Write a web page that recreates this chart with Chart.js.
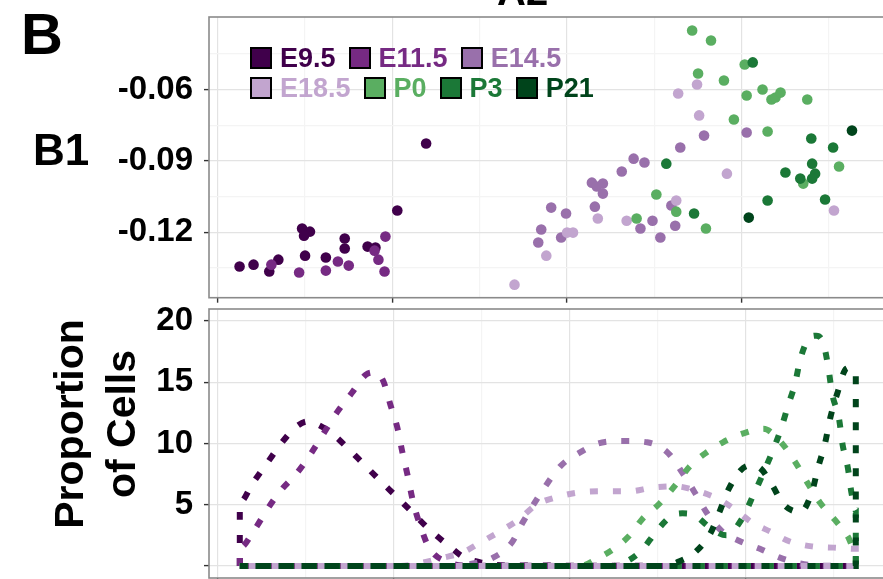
<!DOCTYPE html>
<html>
<head>
<meta charset="utf-8">
<title>B1 vs A2 by stage</title>
<script src="https://cdn.jsdelivr.net/npm/chart.js@4.4.1/dist/chart.umd.min.js"></script>
<style>
  html, body { margin: 0; padding: 0; background: #fff; }
  #fig { position: relative; width: 883px; height: 579px; overflow: hidden;
         font-family: 'Liberation Sans', Arial, sans-serif; font-weight: bold; }
  .box { position: absolute; left: 0; }
  #topBox { top: 0; width: 913px; height: 303px; }
  #botBox { top: 303px; width: 913px; height: 280px; }
  .lbl { position: absolute; white-space: nowrap; color: #000; line-height: 1; }
  #panel { left: 21px; top: 5px; font-size: 58px; }
  #b1 { left: 33px; top: 128px; font-size: 44px; }
  #a2 { left: 497px; top: -29px; font-size: 40px; }
  #ylab { left: -55px; top: 372px; width: 300px; font-size: 41px; line-height: 52px;
          text-align: center; transform: rotate(-90deg); }
  #legend { position: absolute; left: 250px; top: 43px; font-size: 27px; }
  .row { display: flex; align-items: center; height: 30px; }
  .item { display: flex; align-items: center; margin-right: 13px; line-height: 1; }
  .key { width: 22px; height: 22px; box-sizing: border-box; border: 2px solid #000; margin-right: 8px; }
</style>
</head>
<body>
<div id="fig">
  <div class="box" id="topBox"><canvas id="scatter" width="913" height="303"></canvas></div>
  <div class="box" id="botBox"><canvas id="density" width="913" height="280"></canvas></div>
  <div class="lbl" id="a2">A2</div>
  <div class="lbl" id="panel">B</div>
  <div class="lbl" id="b1">B1</div>
  <div class="lbl" id="ylab">Proportion<br>of Cells</div>
  <div id="legend"></div>
</div>
<script>
// stages and colours
var stages = ['E9.5', 'E11.5', 'E14.5', 'E18.5', 'P0', 'P3', 'P21'];
var stageColors = ['#40004b', '#762a83', '#9970ab', '#c2a5cf', '#5aae61', '#1b7837', '#00441b'];
var legendRows = [['E9.5', 'E11.5', 'E14.5'], ['E18.5', 'P0', 'P3', 'P21']];

// scatter: [A2, B1] per cell
var cellsE95 = [[0.125,-0.1345],[0.205,-0.1337],[0.295,-0.1366],[0.347,-0.1316],[0.483,-0.1185],[0.528,-0.1198],
  [0.494,-0.1215],[0.5,-0.1299],[0.619,-0.1307],[0.727,-0.1227],[0.727,-0.1269],[0.858,-0.1261],[0.903,-0.1265],
  [1.028,-0.1109],[1.193,-0.0827]];
var cellsE115 = [[0.307,-0.1337],[0.466,-0.137],[0.619,-0.1362],[0.688,-0.1324],[0.75,-0.1341],[0.898,-0.1278],
  [0.92,-0.1316],[0.96,-0.1219],[0.955,-0.1366]];
var cellsE145 = [[1.835,-0.1244],[1.852,-0.1189],[1.909,-0.1097],[1.966,-0.1223],[1.994,-0.1122],[2.142,-0.0992],
  [2.17,-0.1008],[2.205,-0.0996],[2.205,-0.1038],[2.159,-0.1093],[2.313,-0.0945],[2.381,-0.0891],[2.443,-0.0907],
  [2.648,-0.0844],[2.784,-0.0794],[2.42,-0.1185],[2.489,-0.1152],[2.534,-0.1223],[2.597,-0.1088],[2.619,-0.1173],
  [3.028,-0.0781]];
var cellsE185 = [[1.699,-0.1421],[1.881,-0.1299],[2.0,-0.1202],[2.034,-0.1202],[2.176,-0.1143],[2.341,-0.1152],
  [2.625,-0.1067],[2.636,-0.0617],[2.744,-0.0579],[2.756,-0.0709],[2.915,-0.0954],[3.528,-0.1109]];
var cellsP0 = [[2.716,-0.0352],[2.824,-0.0394],[2.75,-0.0533],[2.898,-0.0562],[3.017,-0.0495],[3.028,-0.0625],
  [3.119,-0.06],[3.17,-0.0642],[3.193,-0.0634],[3.222,-0.0613],[3.375,-0.0642],[2.955,-0.0726],[3.148,-0.0777],
  [2.511,-0.1042],[2.398,-0.1143],[2.625,-0.1114],[2.795,-0.1185],[3.352,-0.0996],[3.557,-0.0924]];
var cellsP3 = [[2.568,-0.0912],[2.727,-0.1122],[3.148,-0.1067],[3.398,-0.0806],[3.523,-0.0844],[3.25,-0.0949],
  [3.335,-0.0975],[3.403,-0.0912],[3.42,-0.0954],[3.403,-0.0975],[3.477,-0.1063],[3.063,-0.0486]];
var cellsP21 = [[3.04,-0.1139],[3.631,-0.0773]];

// density along A2: [A2, proportion of cells]
var densE95 = [[0.125,5.2],[0.2,6.8],[0.28,8.4],[0.36,10.0],[0.44,11.3],[0.51,11.8],[0.56,11.6],[0.65,10.8],
  [0.74,9.6],[0.83,8.3],[0.92,7.0],[1.02,5.6],[1.11,4.3],[1.2,3.0],[1.3,1.8],[1.4,0.7],[1.51,0.25],[1.63,0.05],[3.625,0]];
var densE115 = [[0.125,1.5],[0.21,3.0],[0.28,4.6],[0.36,6.2],[0.45,7.6],[0.53,9.2],[0.6,10.8],[0.68,12.6],
  [0.76,14.1],[0.84,15.6],[0.89,15.8],[0.94,15.1],[0.98,13.2],[1.02,11.3],[1.05,9.2],[1.08,7.3],[1.11,5.2],
  [1.15,3.3],[1.2,1.5],[1.32,0.25],[1.43,0.02],[3.625,0]];
var densE145 = [[0.125,0],[1.35,0],[1.43,0.15],[1.56,0.65],[1.67,1.9],[1.73,3.5],[1.875,6.8],[1.95,8.2],[2.05,9.2],
  [2.16,10.0],[2.3,10.2],[2.44,10.1],[2.56,9.2],[2.64,7.6],[2.71,6.0],[2.78,4.3],[2.86,2.9],[2.97,2.0],[3.08,1.4],
  [3.19,0.7],[3.31,0.2],[3.43,0.03],[3.625,0]];
var densE185 = [[0.125,0],[1.03,0],[1.14,0.2],[1.27,0.65],[1.39,1.1],[1.49,1.9],[1.6,2.8],[1.71,3.8],[1.81,5.0],
  [1.92,5.6],[2.05,6.0],[2.19,6.1],[2.34,6.1],[2.47,6.4],[2.6,6.5],[2.73,6.1],[2.84,5.5],[2.94,4.6],[3.03,3.6],
  [3.14,2.8],[3.25,2.0],[3.375,1.6],[3.5,1.5],[3.625,1.4]];
var densP0 = [[0.125,0],[2.06,0],[2.15,0.55],[2.26,1.5],[2.34,2.5],[2.41,3.8],[2.51,5.1],[2.6,6.6],[2.68,8.1],
  [2.77,9.2],[2.87,10.1],[2.98,10.8],[3.1,11.2],[3.2,10.1],[3.28,8.5],[3.35,6.8],[3.42,5.2],[3.51,3.7],[3.58,2.4],
  [3.625,1.2]];
var densP3 = [[0.125,0],[2.24,0],[2.32,0.35],[2.41,1.3],[2.49,2.8],[2.58,4.1],[2.64,4.3],[2.7,4.2],[2.8,3.1],
  [2.89,2.5],[2.98,3.9],[3.04,5.7],[3.1,7.6],[3.15,9.3],[3.2,11.2],[3.24,13.1],[3.28,14.9],[3.31,16.9],[3.36,18.6],
  [3.4,18.8],[3.44,18.2],[3.47,16.1],[3.49,14.1],[3.53,12.0],[3.55,9.9],[3.58,8.0],[3.6,6.0],[3.625,4.5]];
var densP21 = [[0.125,0],[2.54,0],[2.61,0.3],[2.71,1.1],[2.8,2.7],[2.85,4.4],[2.9,6.2],[2.97,7.8],[3.02,8.2],
  [3.07,8.1],[3.15,6.6],[3.21,5.1],[3.31,4.4],[3.375,6.0],[3.41,8.0],[3.45,10.0],[3.48,12.1],[3.52,14.1],
  [3.57,16.1],[3.6,16.2],[3.625,15.7]];

// axes
var a2Range = [-0.05, 3.95];
var a2Major = [0, 1, 2, 3];
var a2Minor = [0.5, 1.5, 2.5, 3.5];
var b1Range = [-0.1476, -0.0295];
var b1Major = [-0.12, -0.09, -0.06];
var b1Minor = [-0.135, -0.105, -0.075, -0.045];
var propRange = [-0.98, 20.98];
var propMajor = [0, 5, 10, 15, 20];
var propMinor = [2.5, 7.5, 12.5, 17.5];
var propLabels = ['', '5', '10', '15', '20'];

var cells = [cellsE95, cellsE115, cellsE145, cellsE185, cellsP0, cellsP3, cellsP21];
var dens = [densE95, densE115, densE145, densE185, densP0, densP3, densP21];

Chart.defaults.font.family = "'Liberation Sans', Arial, sans-serif";
Chart.defaults.font.weight = 'bold';
Chart.defaults.font.size = 33;
Chart.defaults.color = '#000';

// legend
var legendBox = document.getElementById('legend');
legendRows.forEach(function(row) {
    var r = document.createElement('div');
    r.className = 'row';
    row.forEach(function(name) {
        var c = stageColors[stages.indexOf(name)];
        var it = document.createElement('div');
        it.className = 'item';
        var k = document.createElement('div');
        k.className = 'key';
        k.style.background = c;
        var t = document.createElement('span');
        t.textContent = name;
        t.style.color = c;
        it.appendChild(k);
        it.appendChild(t);
        r.appendChild(it);
    });
    legendBox.appendChild(r);
});

function setTicks(major, minor) {
    return function(s) {
        s.ticks = major.concat(minor).sort(function(a, b) { return a - b; }).map(function(v) { return { value: v }; });
    };
}

// no label overhang, so the plot panel sits where the layout padding says
function noOverhang(s) {
    s.paddingTop = 0; s.paddingBottom = 0; s.paddingLeft = 0; s.paddingRight = 0;
}

function gridOpts(major) {
    return {
        color: function(c) { return c.tick && major.indexOf(c.tick.value) >= 0 ? '#e3e3e3' : '#f4f4f4'; },
        lineWidth: 1.2,
        tickColor: function(c) { return c.tick && major.indexOf(c.tick.value) >= 0 ? '#333' : 'rgba(0,0,0,0)'; },
        tickLength: 5,
        tickWidth: 1.4
    };
}

function a2Axis() {
    return {
        type: 'linear', min: a2Range[0], max: a2Range[1],
        afterBuildTicks: setTicks(a2Major, a2Minor),
        afterFit: noOverhang,
        ticks: { display: false },
        grid: gridOpts(a2Major),
        border: { display: false }
    };
}

function yAxis(range, major, minor, label) {
    return {
        type: 'linear', min: range[0], max: range[1],
        afterBuildTicks: setTicks(major, minor),
        afterFit: function(s) { noOverhang(s); s.width = 209; },
        ticks: {
            padding: 11,
            callback: function(v) { var i = major.indexOf(v); return i >= 0 ? label(v, i) : ''; }
        },
        grid: gridOpts(major),
        border: { display: false }
    };
}

var panelBorder = {
    id: 'panelBorder',
    afterDatasetsDraw: function(chart) {
        var a = chart.chartArea, ctx = chart.ctx;
        ctx.save();
        ctx.strokeStyle = '#8a8a8a';
        ctx.lineWidth = 1.6;
        ctx.strokeRect(a.left, a.top, a.right - a.left, a.bottom - a.top);
        ctx.restore();
    }
};

function xy(p) { return { x: p[0], y: p[1] }; }

new Chart(document.getElementById('scatter'), {
    type: 'scatter',
    data: {
        datasets: cells.map(function(pts, i) {
            return {
                label: stages[i],
                data: pts.map(xy),
                backgroundColor: stageColors[i],
                borderWidth: 0,
                pointRadius: 5.3,
                order: -i
            };
        })
    },
    options: {
        responsive: false, animation: false, devicePixelRatio: 1,
        layout: { padding: { top: 17, left: 0, right: 0, bottom: 0 } },
        plugins: { legend: { display: false }, tooltip: { enabled: false } },
        scales: {
            x: a2Axis(),
            y: yAxis(b1Range, b1Major, b1Minor, function(v) { return v.toFixed(2); })
        }
    },
    plugins: [panelBorder]
});

// density outline: up from zero at the first A2, along the curve, down to zero, back along zero
function outline(curve) {
    var first = curve[0][0], last = curve[curve.length - 1][0];
    return [[first, 0]].concat(curve, [[last, 0], [first, 0]]).map(xy);
}

new Chart(document.getElementById('density'), {
    type: 'scatter',
    data: {
        datasets: dens.map(function(curve, i) {
            return {
                label: stages[i],
                data: outline(curve),
                showLine: true,
                borderColor: stageColors[i],
                borderWidth: 6,
                borderDash: [8, 15],
                borderCapStyle: 'butt',
                cubicInterpolationMode: 'monotone',
                pointRadius: 0,
                fill: false,
                order: -i
            };
        })
    },
    options: {
        responsive: false, animation: false, devicePixelRatio: 1,
        layout: { padding: { top: 6, left: 0, right: 0, bottom: 0 } },
        plugins: { legend: { display: false }, tooltip: { enabled: false } },
        scales: {
            x: a2Axis(),
            y: yAxis(propRange, propMajor, propMinor, function(v, i) { return propLabels[i]; })
        }
    },
    plugins: [panelBorder]
});
</script>
</body>
</html>
